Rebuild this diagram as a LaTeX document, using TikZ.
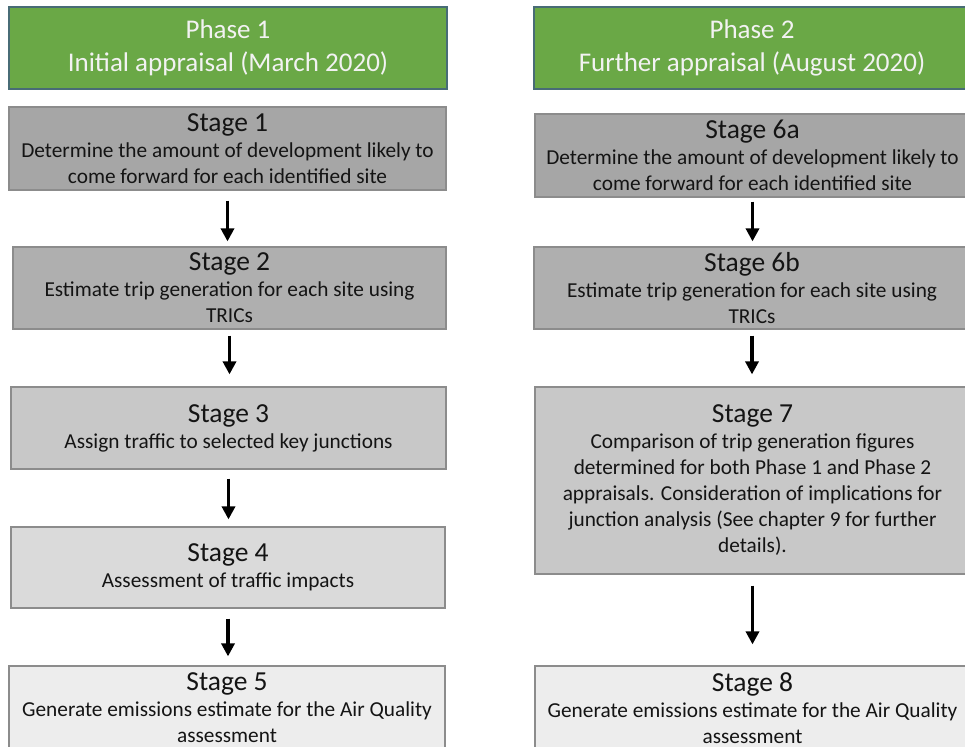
\documentclass[tikz,border=0pt]{standalone}
\usepackage{fontspec}
\setmainfont{Carlito}
\usetikzlibrary{arrows.meta}
\definecolor{hdrgreen}{RGB}{106,168,70}
\definecolor{hdredge}{RGB}{72,108,118}
\definecolor{boxedge}{RGB}{140,140,140}
\definecolor{gA}{RGB}{166,166,166}
\definecolor{gB}{RGB}{175,175,175}
\definecolor{gC}{RGB}{200,200,200}
\definecolor{gD}{RGB}{218,218,218}
\definecolor{gE}{RGB}{237,237,237}
\definecolor{txt}{RGB}{20,20,20}
\definecolor{hdrtxt}{RGB}{242,242,242}
\newcommand\bodyfont{\fontsize{21.3}{26}\selectfont}
\newcommand\titlefont{\fontsize{27.5}{27}\selectfont}
\newcommand\hdrfont{\fontsize{27}{33}\selectfont}
\tikzset{
  box/.style={draw=boxedge, line width=1.2pt, rectangle, inner sep=0pt,
    align=center, font=\bodyfont, text=txt},
  hdr/.style={box, fill=hdrgreen, draw=hdredge, text=hdrtxt, font=\hdrfont},
  flow/.style={-{Triangle[width=13pt,length=13pt]}, line width=3.5pt, black}
}
\begin{document}
\begin{tikzpicture}[x=1pt,y=-1pt]
\useasboundingbox (0,0) rectangle (965,746);
\fill[white] (0,0) rectangle (965,746);
\begin{scope}
\clip (0,0) rectangle (965,746);
% left column
\node[hdr, minimum width=438pt, minimum height=82pt] (p1) at (228,48)
  {Phase 1\\Initial appraisal (March 2020)};
\node[box, fill=gA, minimum width=437pt, minimum height=83pt] (s1) at (227.5,148.5)
  {{\titlefont Stage 1}\\Determine the amount of development likely to\\come forward for each identified site};
\node[box, fill=gB, minimum width=433pt, minimum height=82pt] (s2) at (229.5,288)
  {{\titlefont Stage 2}\\Estimate trip generation for each site using\\TRICs};
\node[box, fill=gC, minimum width=435pt, minimum height=82pt] (s3) at (228.5,428)
  {{\titlefont Stage 3}\\Assign traffic to selected key junctions};
\node[box, fill=gD, minimum width=434pt, minimum height=81pt] (s4) at (228,567.5)
  {{\titlefont Stage 4}\\Assessment of traffic impacts};
\node[box, fill=gE, minimum width=436pt, minimum height=84pt] (s5) at (227,708)
  {{\titlefont Stage 5}\\Generate emissions estimate for the Air Quality\\assessment};
% right column
\node[hdr, minimum width=436pt, minimum height=82pt] (p2) at (752,48)
  {Phase 2\\Further appraisal (August 2020)};
\node[box, fill=gA, minimum width=435pt, minimum height=83pt] (s6a) at (752.5,155.5)
  {{\titlefont Stage 6a}\\Determine the amount of development likely to\\come forward for each identified site};
\node[box, fill=gB, minimum width=436pt, minimum height=82pt] (s6b) at (752,288)
  {{\titlefont Stage 6b}\\Estimate trip generation for each site using\\TRICs};
\node[box, fill=gC, minimum width=435pt, minimum height=187pt] (s7) at (752.5,480.5)
  {{\titlefont Stage 7}\\Comparison of trip generation figures\\determined for both Phase 1 and Phase 2\\appraisals. Consideration of implications for\\junction analysis (See chapter 9 for further\\details).};
\node[box, fill=gE, minimum width=435pt, minimum height=84pt] (s8) at (752.5,708)
  {{\titlefont Stage 8}\\Generate emissions estimate for the Air Quality\\assessment};
\end{scope}
% arrows
\draw[flow, shorten <=10pt, shorten >=5pt] (s1.south) -- (s1.south |- s2.north);
\draw[flow, shorten <=6pt, shorten >=12pt] (s2.south) -- (s2.south |- s3.north);
\draw[flow, shorten <=9pt, shorten >=7pt] (s3.south) -- (s3.south |- s4.north);
\draw[flow, shorten <=10pt, shorten >=9pt] (s4.south) -- (s4.south |- s5.north);
\draw[flow, shorten <=4pt, shorten >=5pt] (s6a.south) -- (s6a.south |- s6b.north);
\draw[flow, shorten <=6pt, shorten >=12pt] (s6b.south) -- (s6b.south |- s7.north);
\draw[flow, shorten <=11pt, shorten >=21pt] (s7.south) -- (s7.south |- s8.north);
\end{tikzpicture}
\end{document}
